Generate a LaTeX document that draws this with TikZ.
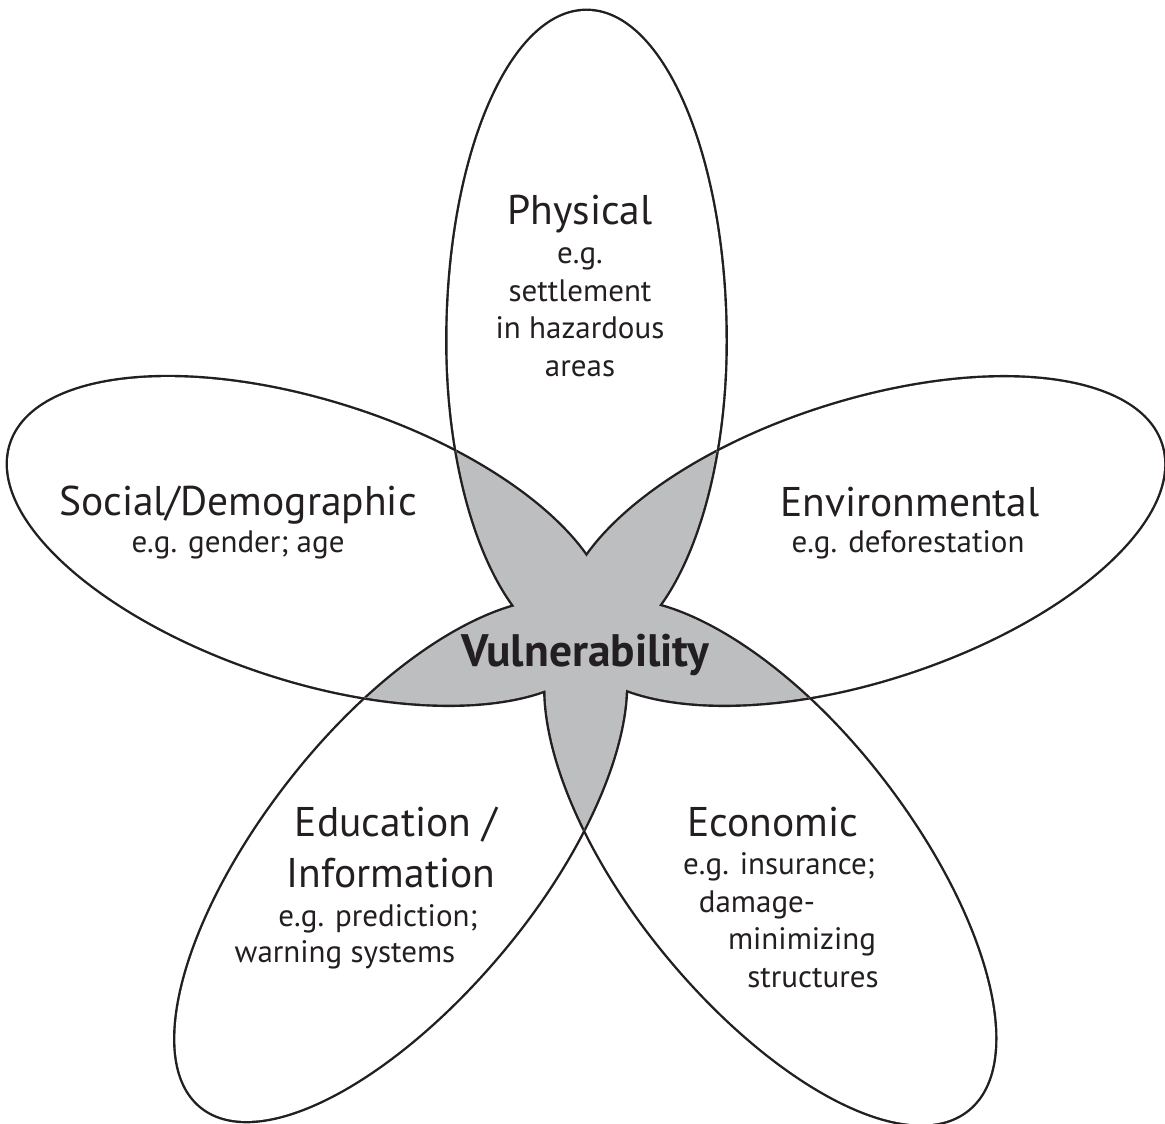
\documentclass[tikz,border=0pt]{standalone}
\usepackage{fontspec}
\setmainfont{PT Sans}
\usepackage{xcolor}
\definecolor{ink}{HTML}{231F20}
\definecolor{core}{HTML}{BCBEC0}

% index/axis angle/outer half length/half width
\newcommand{\petals}{1/90/330/139, 2/18/314/139, 3/308.5/322/139,
                     4/231/322/136, 5/162/315/139}
\newcommand{\petal}[3]{[shift={(O)},rotate={#1-90}]
   (#3,290) arc[start angle=0,end angle=180,x radius=#3,y radius=#2]
            arc[start angle=180,end angle=360,x radius=#3,y radius=310]
   -- cycle}

\begin{document}
\begin{tikzpicture}[ x = 1pt, y = 1pt,
                     head/.style={text=ink,inner sep=0pt,
                                  font=\fontsize{41.5}{45}\selectfont},
                     note/.style={text=ink,inner sep=0pt,
                                  font=\fontsize{31}{37}\selectfont},
                     edge/.style={draw=ink,line width=4.8pt},
                   ]
 \useasboundingbox (0,0) rectangle (1165,1124);
 \coordinate (O) at (586.5,493);

 % outer outline of the flower
 \foreach \p/\ang/\len/\wid in \petals
   \draw[edge] \petal{\ang}{\len}{\wid};
 \foreach \p/\ang/\len/\wid in \petals
   \fill[white] \petal{\ang}{\len}{\wid};

 % outline of the overlaps
 \foreach \p/\ang/\len/\wid in \petals {
   \foreach \q/\angb/\lenb/\widb in \petals {
     \ifnum\p=\q\relax\else
       \begin{scope}
         \clip \petal{\ang}{\len}{\wid};
         \draw[edge] \petal{\angb}{\lenb}{\widb};
       \end{scope}
     \fi
   }
 }
 \foreach \p/\ang/\len/\wid in \petals {
   \foreach \q/\angb/\lenb/\widb in \petals {
     \ifnum\p<\q\relax
       \begin{scope}
         \clip \petal{\ang}{\len}{\wid};
         \fill[core] \petal{\angb}{\lenb}{\widb};
       \end{scope}
     \fi
   }
 }

 \node[text=ink,inner sep=0pt,anchor=base,
       font=\fontsize{45.5}{48}\bfseries] (vul) at (585.5,457) {Vulnerability};

 \node[head,anchor=base] (phys) at (580,899) {Physical};
 \foreach \txt/\yy in {e.g./860, settlement/822, in hazardous/785, areas/747}
   \node[note,anchor=base] (phys-\yy) at (580,\yy) {\txt};

 \node[head,anchor=base] (soc) at (238,608) {Social/Demographic};
 \node[note,anchor=base] (soc-eg) at (238,571) {e.g. gender; age};

 \node[head,anchor=base] (env) at (910,607) {Environmental};
 \node[note,anchor=base] (env-eg) at (908,571) {e.g. deforestation};

 \node[head,anchor=base] (edu) at (396,287) {Education /};
 \node[head,anchor=base] (edu-2) at (391,236) {Information};
 \node[note,anchor=base] (edu-eg) at (378,197) {e.g. prediction;};
 \node[note,anchor=base] (edu-3) at (345,161) {warning systems};

 \node[head,anchor=base] (econ) at (773,287) {Economic};
 \node[note,anchor=base] (econ-eg) at (779,249) {e.g. insurance;};
 \node[note,anchor=base] (econ-2) at (757,211) {damage-};
 \node[note,anchor=base] (econ-3) at (802,174) {minimizing};
 \node[note,anchor=base] (econ-4) at (813,136) {structures};

\end{tikzpicture}
\end{document}
